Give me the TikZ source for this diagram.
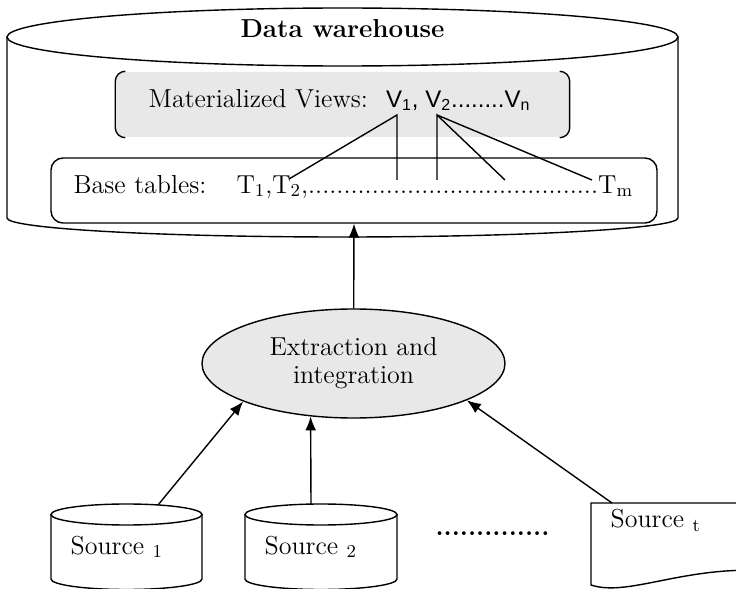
\documentclass[tikz,border=0pt]{standalone}
\usepackage{fontspec}
\usepackage{tikz}
\usetikzlibrary{shapes.geometric,arrows.meta}
\newfontfamily\vfont{Liberation Sans}
\definecolor{boxgray}{HTML}{E8E8E8}

\begin{document}
\begin{tikzpicture}[x=0.5pt,y=0.5pt,line width=0.7pt,
    font=\fontsize{13}{14}\selectfont,
    arr/.style={-{Latex[length=7pt,width=5.5pt]}},
    lbl/.style={anchor=base west,inner sep=0pt}]
    \useasboundingbox (0,0) rectangle (736,-589);
    % data warehouse
    \draw (342.5,-37) ellipse [x radius=335.5,y radius=29];
    \draw (7,-37) -- (7,-218) arc [start angle=180,end angle=360,x radius=335.5,y radius=19] -- (678,-37);
    \node[anchor=base,font=\fontsize{13}{14}\selectfont\bfseries] (dw) at (342.5,-38) {Data warehouse};
    % materialized views
    \node[fill=boxgray,rounded corners=5pt,minimum width=226.5pt,minimum height=32.5pt,inner sep=0pt] (mv) at (342.5,-104.5) {};
    \draw[rounded corners=5pt] ([xshift=5pt]mv.north west) -- (mv.north west) -- (mv.south west) -- ([xshift=5pt]mv.south west);
    \draw[rounded corners=5pt] ([xshift=-5pt]mv.north east) -- (mv.north east) -- (mv.south east) -- ([xshift=-5pt]mv.south east);
    \node[lbl] (mvtext) at (148,-107) {Materialized Views:\hspace{9pt}{\vfont\fontsize{12}{14}\selectfont V\textsubscript{1}, V\textsubscript{2}........V\textsubscript{n}}};
    % base tables
    \node[draw,rounded corners=6pt,minimum width=303pt,minimum height=32.5pt] (base) at (354,-190.5) {};
    \node[lbl] (bttext) at (73,-193) {Base tables:\hspace{15pt}T\textsubscript{1},T\textsubscript{2},.........................................T\textsubscript{m}};
    \coordinate (v1) at (397,-115);
    \coordinate (v2) at (437,-115);
    \coordinate (t2) at (289,-179);
    \coordinate (ta) at (397,-180);
    \coordinate (tb) at (437,-180);
    \coordinate (tc) at (505,-180);
    \coordinate (tm) at (592,-180);
    \draw (t2) -- (v1) -- (ta);
    \draw (tb) -- (v2) -- (tc);
    \draw (v2) -- (tm);
    % extraction
    \node[ellipse,draw,fill=boxgray,minimum width=151.5pt,minimum height=54.5pt,inner sep=0pt,align=center] (ext) at (353.5,-363.5) {Extraction and\\integration};
    \draw[arr] (ext) -- (base.south);
    % sources
    \draw (126.5,-514.5) ellipse [x radius=75.5,y radius=10.5];
    \draw (51,-514.5) -- (51,-579) arc [start angle=180,end angle=360,x radius=75.5,y radius=10.5] -- (202,-514.5);
    \node[lbl] (src1) at (70,-554) {Source \textsubscript{1}};
    \draw (321,-514.5) ellipse [x radius=76,y radius=10.5];
    \draw (245,-514.5) -- (245,-579) arc [start angle=180,end angle=360,x radius=76,y radius=10.5] -- (397,-514.5);
    \node[lbl] (src2) at (264,-554) {Source \textsubscript{2}};
    \node[anchor=base] (more) at (492.5,-536) {\textbf{..............}};
    \draw (780,-503) -- (591,-503) -- (591,-585) .. controls (630,-598) and (690,-562) .. (780,-572);
    \node[lbl] (srct) at (610,-528) {Source \textsubscript{t}};
    \coordinate (s1top) at (158,-505);
    \coordinate (s2top) at (311,-504);
    \coordinate (sttop) at (612,-503);
    \draw[arr] (s1top) -- (ext.199);
    \draw[arr] (s2top) -- (ext.231);
    \draw[arr] (sttop) -- (ext.342);
\end{tikzpicture}
\end{document}
